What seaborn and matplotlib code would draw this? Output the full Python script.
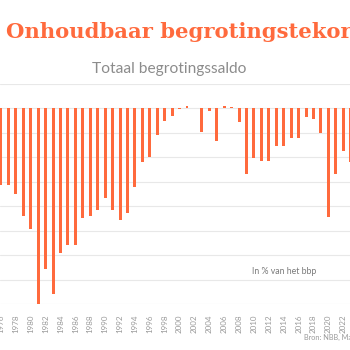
import matplotlib
matplotlib.use("Agg")
import matplotlib.pyplot as plt
import seaborn as sns
import pandas as pd

# ---- data ----
years = list(range(1976, 2024))
saldo = [-6.3, -6.3, -7.0, -8.8, -9.9, -16.0, -13.1, -15.2, -11.8, -11.2,
         -11.2, -9.0, -8.8, -8.3, -7.3, -8.3, -9.1, -8.6, -6.4, -4.4,
         -4.0, -2.15, -1.0, -0.6, -0.1, 0.2, 0.0, -1.9, -0.2, -2.7,
         0.2, 0.1, -1.1, -5.4, -4.1, -4.3, -4.3, -3.1, -3.1, -2.4,
         -2.4, -0.7, -0.9, -2.0, -8.9, -5.4, -3.5, -4.4]
tick_years = list(range(1976, 2023, 2))
grid_values = list(range(-16, 3, 2))

title = "Onhoudbaar begrotingstekort"
subtitle = "Totaal begrotingssaldo"
unit_note = "In % van het bbp"
source = "Bron: NBB, Macrobond"

ORANGE = "#ff6a3d"

sns.set_style("white")
plt.rcParams['font.family'] = ['Lato', 'DejaVu Sans']

W = H = 350
fig = plt.figure(figsize=(3.5, 3.5), dpi=100)
ax = fig.add_axes([0, 46 / H, 1, 220.2 / H])

df = pd.DataFrame({"jaar": [str(y) for y in years], "saldo": saldo})
sns.barplot(data=df, x="jaar", y="saldo", color=ORANGE, saturation=1,
            width=0.4, ax=ax, errorbar=None, linewidth=0, edgecolor=ORANGE)

step = 7.44
ax.set_xlim(-1 / step, 349 / step)
ax.set_ylim(-16, 2)
ax.set_yticks(grid_values)
ax.yaxis.grid(True, color="#e8e8e8", linewidth=0.8)
ax.set_axisbelow(True)
ax.tick_params(axis='y', left=False, labelleft=False)
ax.set_xticks([y - years[0] for y in tick_years])
ax.set_xticklabels([str(y) for y in tick_years], rotation=90)
ax.tick_params(axis='x', bottom=False, labelsize=5.8, labelcolor="#9a9a9a", pad=4)
for s in ax.spines.values():
    s.set_visible(False)
ax.set_xlabel("")
ax.set_ylabel("")

fig.text(6 / W, 1 - 38 / H, title, fontsize=15.2, fontweight='bold',
         family=['DejaVu Serif'], color=ORANGE, va='baseline', ha='left')
fig.text(169 / W, 1 - 73.5 / H, subtitle, fontsize=11.2, color="#8c8c8c",
         ha='center', va='baseline')
fig.text(252 / W, 1 - 274 / H, unit_note, fontsize=6.3, color="#7a7a7a",
         ha='left', va='baseline')
fig.text(304 / W, 1 - 340 / H, source, fontsize=5.3, color="#9a9a9a",
         ha='left', va='baseline')

fig.savefig("out.png", dpi=100)
